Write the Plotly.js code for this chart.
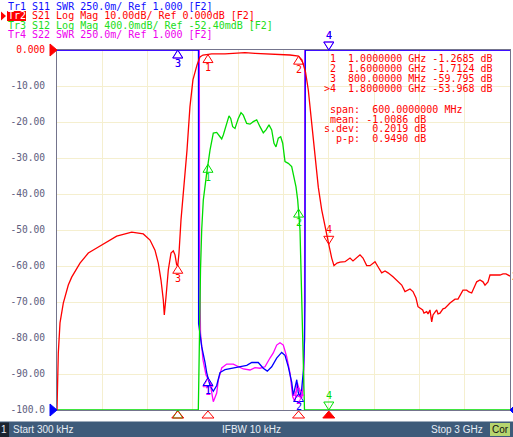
<!DOCTYPE html>
<html><head><meta charset="utf-8">
<script src="https://cdn.plot.ly/plotly-3.0.1.min.js"></script>
<style>html,body{margin:0;padding:0;background:#fff;overflow:hidden}#chart{width:513px;height:437px}</style>
</head><body><div id="chart"></div>
<script>
// ---------- DATA (frequencies in GHz) ----------
// Tr2: S21 Log Mag (dB)
const s21Freq = [0.0003,0.0089,0.0202,0.0314,0.0420,0.0751,0.0976,0.1526,0.2076,0.2632,0.3182,0.3956,0.4950,0.5718,0.6161,0.6492,0.6711,0.6890,0.7042,0.7108,0.7221,0.7373,0.7552,0.7704,0.7817,0.7929,0.8000,0.8082,0.8214,0.8346,0.8612,0.8806,0.9005,0.9270,0.9469,0.9671,1.0000,1.0247,1.1128,1.1790,1.2452,1.3114,1.4107,1.4770,1.5432,1.6000,1.6227,1.6458,1.6644,1.6869,1.7087,1.7306,1.7531,1.7749,1.8000,1.8193,1.8345,1.8544,1.8743,1.9074,1.9405,1.9604,1.9869,2.0067,2.0266,2.0511,2.0730,2.1061,2.1260,2.1505,2.1724,2.1922,2.2253,2.2584,2.2829,2.3047,2.3246,2.3378,2.3577,2.3776,2.3908,2.4219,2.4305,2.4484,2.4570,2.4702,2.4815,2.4901,2.5034,2.5146,2.5232,2.5365,2.5563,2.5696,2.6027,2.6358,2.6556,2.6689,2.6887,2.7132,2.7285,2.7463,2.7616,2.7795,2.8013,2.8212,2.8344,2.8543,2.8675,2.9119,2.9337,2.9536,2.9735,3.0000];
const s21dB = [-100,-84.2,-75.8,-72.2,-70.3,-65.3,-63.1,-59.2,-56.4,-55.0,-53.6,-51.7,-50.6,-51.1,-52.8,-55.6,-59.2,-63.9,-69.4,-73.6,-68.6,-61.1,-56.4,-55.8,-56.9,-59.7,-59.8,-56.4,-47.2,-40.8,-27.8,-15.8,-8.3,-4.2,-1.94,-1.4,-1.27,-1.1,-1.1,-0.92,-0.75,-0.92,-1.05,-1.17,-1.39,-1.71,-2.8,-6.1,-11.1,-20.3,-29.7,-38.1,-44.4,-49.2,-53.97,-57.8,-59.9,-59.2,-58.9,-58.8,-57.8,-58.6,-57.5,-56.9,-57.8,-59.9,-59.9,-58.8,-60.2,-61.9,-61.4,-61.9,-63.0,-64.4,-65.3,-67.1,-66.7,-66.4,-67.1,-68.9,-71.3,-72.2,-73.1,-72.7,-73.3,-72.2,-75.5,-73.6,-72.8,-72.2,-73.3,-73.1,-71.9,-71.7,-70.3,-69.2,-69.2,-68.1,-66.7,-66.7,-67.2,-67.5,-65.8,-64.4,-63.9,-64.4,-65.3,-64.4,-62.5,-62.5,-62.5,-62.2,-62.2,-62.8];

// Tr1: S11 SWR (off-scale values beyond 3.5 are pinned to the top)
const s11Freq = [0.0003,0.4,0.9370,0.9380,0.9473,0.9585,0.9804,0.9916,1.0135,1.0353,1.0578,1.0797,1.1128,1.1660,1.2230,1.2570,1.2900,1.3330,1.3660,1.3930,1.4220,1.4550,1.4880,1.5100,1.5320,1.5550,1.5650,1.5760,1.5880,1.5980,1.6090,1.6200,1.6326,1.6392,1.6425,1.6445,2.2,3.0];
const s11Swr  = [10,10,10,1.60,1.535,1.44,1.33,1.26,1.17,1.13,1.17,1.26,1.28,1.29,1.30,1.31,1.33,1.33,1.29,1.27,1.30,1.36,1.40,1.38,1.30,1.19,1.10,1.15,1.21,1.12,1.09,1.14,1.28,1.49,1.76,10,10,10];

// Tr4: S22 SWR
const s22Freq = [0.0003,0.5,0.9426,0.9446,0.9506,0.9671,0.9870,1.0135,1.0353,1.0578,1.0684,1.0909,1.1240,1.1677,1.2008,1.2339,1.2783,1.3114,1.3445,1.3776,1.4107,1.4326,1.4551,1.4770,1.4988,1.5213,1.5432,1.5611,1.5763,1.5915,1.6048,1.6207,1.6313,1.6392,1.6405,1.6419,2.2,3.0];
const s22Swr  = [10,10,10,2.11,1.535,1.347,1.243,1.19,1.058,1.118,1.208,1.292,1.319,1.319,1.30,1.285,1.278,1.294,1.29,1.30,1.361,1.396,1.451,1.467,1.451,1.37,1.257,1.092,1.058,1.19,1.139,1.083,1.162,1.486,2.458,10,10,10];

// Tr3: S12 as drawn on the grid (grid dB units; below-scale values pinned to the bottom)
const s12Freq = [0.0003,0.5,0.9360,0.9393,0.9426,0.9506,0.9585,0.9691,0.9916,1.0135,1.0353,1.0578,1.0797,1.0909,1.1015,1.1240,1.1393,1.1505,1.1637,1.1790,1.2008,1.2187,1.2339,1.2564,1.2783,1.3001,1.3226,1.3445,1.3663,1.3842,1.4041,1.4220,1.4372,1.4505,1.4657,1.4816,1.4948,1.5101,1.5319,1.5544,1.5697,1.5829,1.5942,1.6028,1.6094,1.6194,1.6293,1.6359,1.6392,3.0];
const s12Grid = [-110,-110,-110,-91.7,-78.6,-61.1,-50.0,-41.7,-34.2,-27.8,-23.1,-22.9,-24.1,-24.7,-23.6,-20.4,-18.3,-19.0,-21.3,-21.8,-19.0,-17.4,-18.1,-20.4,-20.6,-19.9,-19.4,-21.3,-23.0,-22.2,-20.8,-22.2,-25.9,-26.9,-24.5,-24.1,-25.9,-31.0,-31.5,-32.4,-35.2,-38.0,-41.7,-45.4,-50.0,-66.7,-83.3,-97.2,-110,-110];

// Markers
const markerFreq = [1.0, 1.6, 0.8, 1.8];
const markerNames = ['1','2','3','4'];
const markerS21 = [-1.2685, -1.7124, -59.795, -53.968];
const activeMarker = 3;

// Axis ticks
const yTickVals = [0,-10,-20,-30,-40,-50,-60,-70,-80,-90,-100];
const yTickText = ['0.000','-10.00','-20.00','-30.00','-40.00','-50.00','-60.00','-70.00','-80.00','-90.00','-100.0'];

// Texts
const headerLines = [
  ['Tr1', ' S11 SWR 250.0m/ Ref 1.000 [F2]', '#1010ff'],
  ['Tr2', ' S21 Log Mag 10.00dB/ Ref 0.000dB [F2]', '#ff0000'],
  ['Tr3', ' S12 Log Mag 400.0mdB/ Ref -52.40mdB [F2]', '#20dd20'],
  ['Tr4', ' S22 SWR 250.0m/ Ref 1.000 [F2]', '#ee00ee']
];
const activeTrace = 1;
const markerTable = [
  ' 1  1.0000000 GHz -1.2685 dB',
  ' 2  1.6000000 GHz -1.7124 dB',
  ' 3  800.00000 MHz -59.795 dB',
  '>4  1.8000000 GHz -53.968 dB'
];
const statsTable = [
  ' span:  600.0000000 MHz',
  ' mean: -1.0086 dB',
  's.dev:  0.2019 dB',
  '  p-p:  0.9490 dB'
];
const statusTexts = {start:'Start 300 kHz', ifbw:'IFBW 10 kHz', stop:'Stop 3 GHz', ch:'1', cor:'Cor'};

// ---------- GEOMETRY / HELPERS ----------
const L=57, R=510, T=50, B=410;
const X0=0.0003, X1=3.0, Y0=-100, Y1=0;
const xp = px => (px-L)/(R-L);
const yp = py => (B-py)/(B-T);
const fxFrac = f => (f-X0)/(X1-X0);
const fyFrac = v => (v-Y0)/(Y1-Y0);
const clamp = v => Math.max(Y0, Math.min(Y1, v));
const swrToGrid = s => -100 + (s-1)/0.25*10;   // ref 1.000 at bottom, 250m/div
function interp(fx, fy, f){
  for(let i=1;i<fx.length;i++){ if(f<=fx[i]){ const t=(f-fx[i-1])/(fx[i]-fx[i-1]); return fy[i-1]+t*(fy[i]-fy[i-1]); } }
  return fy[fy.length-1];
}
const BLUE='#0000ff', RED='#ff0000', GREEN='#00dd00', MAG='#ff00ff';
const MONO='DejaVu Sans Mono';
const CW = 6.02; // mono char width at 10px

// draw order: Tr4, Tr1, Tr3, Tr2 (active on top)
const series = [
  {name:'Tr4', f:s22Freq, y:s22Swr.map(swrToGrid).map(clamp), color:MAG},
  {name:'Tr1', f:s11Freq, y:s11Swr.map(swrToGrid).map(clamp), color:BLUE},
  {name:'Tr3', f:s12Freq, y:s12Grid.map(clamp), color:GREEN},
  {name:'Tr2', f:s21Freq, y:s21dB.map(clamp), color:RED}
];

const data = series.map(s => ({
  type:'scatter', mode:'lines', x:s.f, y:s.y, line:{color:s.color, width:1.3}, hoverinfo:'skip'
}));

const shapes = [];
const ann = [];
// glyph shape anchored at a data point, drawn in pixels (paper refs so it is not clipped)
const pxShape = (f, v, path, color, filled) => shapes.push({
  type:'path', xref:'paper', yref:'paper', xsizemode:'pixel', ysizemode:'pixel', xanchor:fxFrac(f), yanchor:fyFrac(v),
  path:path, line:{color:color, width:1}, fillcolor: filled ? color : 'rgba(0,0,0,0)', layer:'above'
});
const TRI_UP = 'M 0 0 L -5 -8 L 5 -8 Z';      // apex at point, body below
const TRI_DN = 'M 0 0 L -5 8 L 5 8 Z';        // apex at point, body above

// Trace markers
series.forEach(s => {
  markerFreq.forEach((f,i) => {
    const v = s.name==='Tr2' ? clamp(markerS21[i]) : clamp(interp(s.f, s.y, f));
    const active = (i===activeMarker);
    pxShape(f, v, active ? TRI_DN : TRI_UP, s.color, false);
    if(v > Y0 || active){
      ann.push({xref:'x', yref:'y', x:f, y:v, yshift: active ? 15 : -13, xanchor:'center', yanchor:'middle',
        showarrow:false, text:markerNames[i], font:{family:MONO, size:10, color:s.color}, borderpad:0});
    }
  });
});

// Stimulus markers under the axis
markerFreq.forEach((f,i) => pxShape(f, Y0, 'M 0 -1 L -6 -8 L 6 -8 Z', RED, i===activeMarker));
// Reference level pointers on the left, end pointer on the right
pxShape(X0, 0, 'M 0 0 L -7 6 L -7 -6 Z', RED, true);
pxShape(X0, -100, 'M 0 0 L -7 6 L -7 -6 Z', BLUE, true);
pxShape(X1, -100, 'M 0 0 L 3 3 L 3 -3 Z', BLUE, true);

// ---------- ANNOTATIONS ----------
const nb = s => s.replace(/ /g,'\u00A0');
const txt = (px, py, text, color, opts={}) => ann.push(Object.assign({
  xref:'paper', yref:'paper', x:xp(px), y:yp(py), xanchor:'left', yanchor:'middle', showarrow:false,
  text:nb(text), font:{family:MONO, size:10, color:color}, borderpad:0, borderwidth:0
}, opts));

const headerY = [6, 16, 25.5, 35];
headerLines.forEach((h,i) => {
  if(i===activeTrace){
    shapes.push({type:'rect', xref:'paper', yref:'paper', x0:xp(7), x1:xp(26), y0:yp(21), y1:yp(11), fillcolor:RED, line:{width:0}, layer:'above'});
    txt(8, headerY[i], h[0], '#ffffff');
  } else {
    txt(8, headerY[i], h[0], h[2]);
  }
  txt(8+3*CW, headerY[i], h[1], h[2]);
});
markerTable.forEach((t,i) => txt(324, 58.3+10*i, t, RED));
statsTable.forEach((t,i) => txt(324, 109.3+9.8*i, t, RED));
// trace end label on right edge
ann.push({xref:'paper', yref:'y', x:xp(510.5), y:s21dB[s21dB.length-1], xanchor:'left', yanchor:'middle', showarrow:false,
  text:'2', font:{family:MONO, size:10, color:RED}, borderpad:0});

// status bar texts
const SANS='Liberation Sans';
const st = (px, anchor, text, color) => ann.push({xref:'paper', yref:'paper', x:xp(px), y:yp(429.5), xanchor:anchor, yanchor:'middle',
  showarrow:false, text:text, font:{family:SANS,size:10,color:color}, borderpad:0});
st(12,'left',statusTexts.start,'#e8eef5');
st(251,'center',statusTexts.ifbw,'#e8eef5');
st(484,'right',statusTexts.stop,'#e8eef5');
st(4,'center',statusTexts.ch,'#e8eef5');
st(500,'center',statusTexts.cor,'#101010');

// ---------- SHAPES (frame pieces) ----------
shapes.push(
  {type:'rect', xref:'paper', yref:'paper', x0:xp(0), x1:xp(513), y0:yp(421.5), y1:yp(437), fillcolor:'#3e5b7a', line:{width:0}, layer:'above'},
  {type:'rect', xref:'paper', yref:'paper', x0:xp(0), x1:xp(9), y0:yp(422.5), y1:yp(437), fillcolor:'#1b2430', line:{width:0}, layer:'above'},
  {type:'rect', xref:'paper', yref:'paper', x0:xp(490), x1:xp(510), y0:yp(423), y1:yp(436), fillcolor:'#b6d56e', line:{width:0}, layer:'above'},
  {type:'path', xref:'paper', yref:'paper', path:`M ${xp(1)} ${yp(11.5)} L ${xp(6)} ${yp(16)} L ${xp(1)} ${yp(20.5)} Z`, fillcolor:RED, line:{width:0}, layer:'above'}
);

const layout = {
  width:513, height:437, margin:{l:L, r:513-R, t:T, b:437-B, pad:0},
  paper_bgcolor:'#ffffff', plot_bgcolor:'#ffffff', showlegend:false,
  xaxis:{range:[X0,X1], tick0:X0, dtick:(X1-X0)/10, showticklabels:false, ticks:'', showgrid:true, gridcolor:'#f5efcf', gridwidth:1,
    zeroline:false, showline:true, linecolor:'#74748c', linewidth:1, mirror:true, layer:'below traces', fixedrange:true},
  yaxis:{range:[Y0,Y1], tickvals:yTickVals,
    ticktext:yTickText.map((t,i)=> i===0 ? '<span style="color:#ff0000">'+t+'</span>' : t),
    tickfont:{family:MONO, size:9.6, color:'#5e5e7e'}, ticks:'', ticklabelstandoff:9,
    showgrid:true, gridcolor:'#f5efcf', gridwidth:1, zeroline:false, showline:true, linecolor:'#74748c', linewidth:1, mirror:true,
    layer:'below traces', fixedrange:true},
  annotations:ann, shapes:shapes
};

Plotly.newPlot('chart', data, layout, {staticPlot:true, displayModeBar:false});
</script></body></html>
